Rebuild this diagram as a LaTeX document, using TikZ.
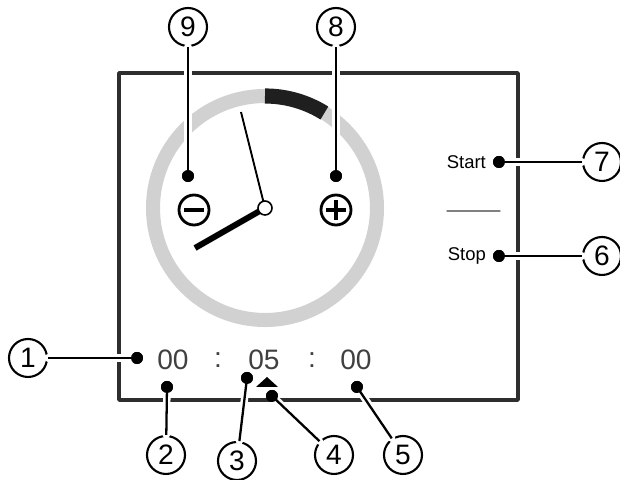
\documentclass[tikz,border=0pt]{standalone}
\usepackage{fontspec}
\setmainfont{Liberation Sans}
\begin{document}
\begin{tikzpicture}[x=0.02cm, y=0.02cm, line join=round, line cap=round,
  num/.style={circle, draw, line width=1.2pt, minimum size=0.76cm, inner sep=0pt, fill=white, font=\fontsize{16}{16}\selectfont},
  pin/.style={circle, fill=black, inner sep=0pt, outer sep=0pt, minimum size=0.24cm},
  lead/.style={line width=1.3pt, line cap=butt, preaction={draw, white, line width=4.2pt}},
  digit/.style={text=black!75, font=\fontsize{16}{16}\selectfont},
  btn/.style={font=\fontsize{10.5}{11}\selectfont, anchor=east}]
\useasboundingbox (0,0) rectangle (620,480);
\draw[black!82, line width=2pt, line cap=butt] (119,80) rectangle (518,407);
% dial
\draw[black!18, line width=8pt] (265,272) circle (112);
\draw[black!88, line width=8.6pt, line cap=butt] (265,384) arc[start angle=90, end angle=58, radius=112];
\draw[line width=1.1pt, line cap=butt] (265,272) -- (241,368);
\draw[line width=3.4pt, line cap=butt] (265,272) -- (195,232);
\draw[fill=white, line width=0.9pt] (265,272) circle (7);
% minus / plus
\draw[line width=1.6pt] (194,270) circle (15);
\draw[line width=2.6pt, line cap=butt] (184,270) -- (204,270);
\draw[line width=1.6pt] (336,270) circle (15);
\draw[line width=2.6pt, line cap=butt] (326,270) -- (346,270) (336,260) -- (336,280);
% buttons
\node[btn] at (492,318) {Start};
\node[btn] at (492,224) {Stop};
\draw[black!50, line width=0.8pt] (447,269) -- (500,269);
% time
\node[digit] at (173,120) {00};
\node[digit] at (218,120) {:};
\node[digit] at (264,120) {05};
\node[digit] at (312,120) {:};
\node[digit] at (356,120) {00};
\fill (256,93) -- (278,93) -- (267,103) -- cycle;
% pins
\node[pin] (p1) at (137,122) {};
\node[pin] (p2) at (167,93) {};
\node[pin] (p3) at (247,102) {};
\node[pin] (p4) at (272,84) {};
\node[pin] (p5) at (357,93) {};
\node[pin] (p6) at (499,224) {};
\node[pin] (p7) at (499,318) {};
\node[pin] (p8) at (336,304) {};
\node[pin] (p9) at (188,304) {};
% callouts
\node[num] (c1) at (28,122) {1};
\node[num] (c2) at (166,25) {2};
\node[num] (c3) at (237,19) {3};
\node[num] (c4) at (334,25) {4};
\node[num] (c5) at (403,25) {5};
\node[num] (c6) at (602,224) {6};
\node[num] (c7) at (602,318) {7};
\node[num] (c8) at (336,453) {8};
\node[num] (c9) at (188,453) {9};
\foreach \i in {1,...,9} {
  \draw[lead] (p\i.center) -- (c\i);
  \fill (p\i) circle (0.12cm);
}
\end{tikzpicture}
\end{document}
